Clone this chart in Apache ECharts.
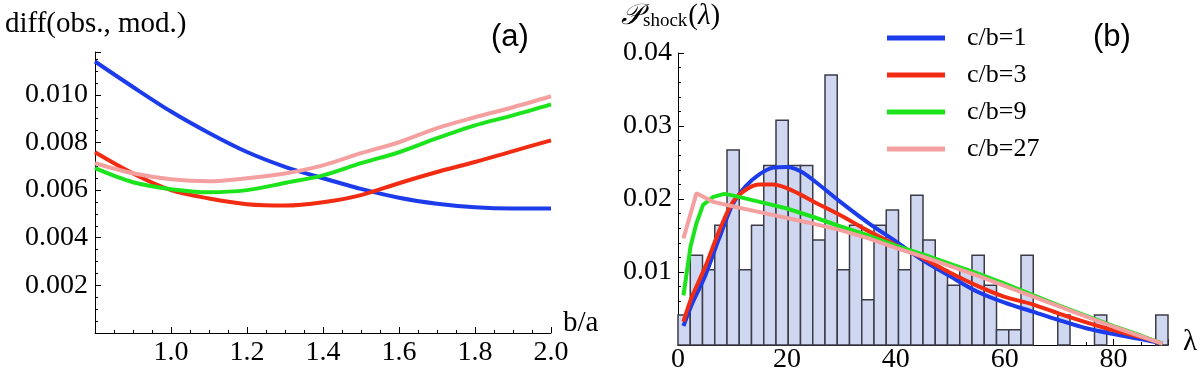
<!DOCTYPE html>
<html>
<head>
<meta charset="utf-8">
<script src="https://cdn.jsdelivr.net/npm/echarts@6/dist/echarts.min.js"></script>
<style>
  html, body { margin: 0; padding: 0; background: #fff; }
  #main { width: 1200px; height: 374px; }
</style>
</head>
<body>
<div id="main"></div>
<script>
// ---- panel (a): diff(obs., mod.) vs b/a ----
var ba = [0.8, 0.9, 1.0, 1.1, 1.2, 1.3, 1.4, 1.5, 1.6, 1.7, 1.8, 1.9, 2.0]
var diffCb1 = [0.0114, 0.01033, 0.0093, 0.0084, 0.0076, 0.00698, 0.0065, 0.00605, 0.00568, 0.00543, 0.00528, 0.00523, 0.00523]
var diffCb3 = [0.00759, 0.0067, 0.0060, 0.00565, 0.00541, 0.00535, 0.00549, 0.00579, 0.00629, 0.00676, 0.00718, 0.00764, 0.00809]
var diffCb9 = [0.00692, 0.00633, 0.00604, 0.00591, 0.0060, 0.0063, 0.00662, 0.00713, 0.00759, 0.00818, 0.00872, 0.00914, 0.0096]
var diffCb27 = [0.00713, 0.00671, 0.00646, 0.00637, 0.0065, 0.0067, 0.00704, 0.00755, 0.00801, 0.0086, 0.00906, 0.00948, 0.00994]

// ---- panel (b): P_shock(lambda) ----
var binWidth = 2.25
var histHeights = [
  0.0041, 0.0123, 0.0103, 0.0164, 0.0267, 0.0103, 0.0164, 0.0246, 0.0308, 0.0246,
  0.0246, 0.0144, 0.0370, 0.0103, 0.0164, 0.0062, 0.0164, 0.0185, 0.0103, 0.0205,
  0.0144, 0.0103, 0.0082, 0.0103, 0.0123, 0.0082, 0.0021, 0.0021, 0.0123, 0,
  0, 0.0041, 0, 0, 0.0041, 0, 0, 0, 0, 0.0041
]
var lamSmooth = [1, 2.5, 5, 7.5, 10, 12.5, 15, 17.5, 20, 22.5, 25, 30, 35, 40, 45, 50, 55, 60, 65, 70, 75, 80, 85, 89]
var pCb1 = [0.0026, 0.0055, 0.0095, 0.0145, 0.0192, 0.0218, 0.0234, 0.0243, 0.0244, 0.0238, 0.0225, 0.0195, 0.0167, 0.0142, 0.0116, 0.0094, 0.0073, 0.0058, 0.0046, 0.0034, 0.0023, 0.0015, 0.0008, 0.0002]
var pCb3 = [0.0032, 0.0065, 0.0107, 0.0155, 0.0195, 0.0213, 0.0220, 0.0220, 0.0215, 0.0206, 0.0196, 0.0177, 0.0156, 0.0137, 0.0119, 0.0099, 0.0081, 0.0066, 0.0056, 0.0043, 0.0031, 0.0020, 0.0011, 0.0002]
var lamCb9 = [1, 2.3, 3.4, 4.6, 6.5, 8.5, 10, 15, 20, 25, 30, 35, 40, 45, 50, 55, 60, 65, 70, 75, 80, 85, 89]
var pCb9 = [0.0068, 0.0135, 0.0167, 0.0192, 0.0203, 0.0207, 0.0205, 0.0196, 0.0187, 0.0175, 0.0162, 0.0150, 0.0136, 0.0124, 0.0111, 0.0098, 0.0084, 0.0069, 0.0054, 0.0040, 0.0026, 0.0013, 0.0002]
var lamCb27 = [1, 3.4, 6.5, 10, 15, 20, 25, 30, 35, 40, 45, 50, 55, 60, 65, 70, 75, 80, 85, 89]
var pCb27 = [0.0146, 0.0208, 0.0196, 0.0190, 0.0182, 0.0174, 0.0166, 0.0157, 0.0146, 0.0133, 0.0121, 0.0108, 0.0095, 0.0081, 0.0067, 0.0053, 0.0039, 0.0025, 0.0012, 0.0002]

var seriesNames = ['c/b=1', 'c/b=3', 'c/b=9', 'c/b=27']
var colors = ['#1c3cec', '#f22c12', '#1ce41c', '#f5a0a0']

var serif = 'Liberation Serif'

function zip(xs, ys) {
  return xs.map(function (x, i) { return [x, ys[i]] })
}

var histData = []
histHeights.forEach(function (h, i) {
  if (h > 0) histData.push([i * binWidth, (i + 1) * binWidth, h])
})

function lineSeries(idx, xAxisIndex, data, smooth) {
  return {
    name: seriesNames[idx],
    type: 'line',
    xAxisIndex: xAxisIndex,
    yAxisIndex: xAxisIndex,
    data: data,
    smooth: smooth,
    showSymbol: false,
    color: colors[idx],
    lineStyle: { color: colors[idx], width: 4 },
    z: 3 + idx,
    animation: false
  }
}

var axisCommon = {
  axisLine: { onZero: false, lineStyle: { color: '#000', width: 1 } },
  axisTick: { inside: true, length: 6, lineStyle: { color: '#000' } },
  minorTick: { show: true, length: 3, lineStyle: { color: '#000' } },
  splitLine: { show: false },
  axisLabel: { color: '#000', fontFamily: serif, fontSize: 28 }
}

function axis(extra) {
  return echarts.util.merge(echarts.util.clone(axisCommon), extra, true)
}

var chart = echarts.init(document.getElementById('main'))
chart.setOption({
  animation: false,
  grid: [
    { left: 95, right: 649, top: 52, bottom: 41 },
    { left: 678, right: 32, top: 53, bottom: 29 }
  ],
  xAxis: [
    axis({
      type: 'value', gridIndex: 0, min: 0.8, max: 2.0, interval: 0.2,
      minorTick: { splitNumber: 4 },
      axisLabel: { margin: 6, showMinLabel: false, formatter: function (v) { return v.toFixed(1) } }
    }),
    axis({
      type: 'value', gridIndex: 1, min: 0, max: 90, interval: 20,
      minorTick: { splitNumber: 4 },
      axisLabel: { margin: 1, showMaxLabel: false }
    })
  ],
  yAxis: [
    axis({
      type: 'value', gridIndex: 0, min: 0, max: 0.0118, interval: 0.002,
      minorTick: { splitNumber: 4 },
      axisLabel: { margin: 7, showMinLabel: false, showMaxLabel: false, formatter: function (v) { return v.toFixed(3) } }
    }),
    axis({
      type: 'value', gridIndex: 1, min: 0, max: 0.04, interval: 0.01,
      minorTick: { splitNumber: 5 },
      axisLabel: { margin: 6, showMinLabel: false, formatter: function (v) { return v.toFixed(2) } }
    })
  ],
  legend: {
    data: seriesNames,
    orient: 'vertical',
    left: 882,
    top: 20,
    icon: 'rect',
    itemWidth: 58,
    itemHeight: 5,
    itemGap: 11,
    selectedMode: false,
    textStyle: { fontFamily: serif, fontSize: 26, lineHeight: 26, color: '#000', padding: [0, 0, 0, 17] }
  },
  graphic: [
    { type: 'text', left: 5, top: 10, style: { text: 'diff(obs., mod.)', font: '29px Liberation Serif', fill: '#000' } },
    { type: 'text', left: 491, top: 22, style: { text: '(a)', font: '31px Liberation Sans', fill: '#000' } },
    { type: 'text', left: 563, top: 309, style: { text: 'b/a', font: '29px Liberation Serif', fill: '#000' } },
    {
      type: 'text', left: 621, top: 2,
      style: {
        text: '{p|𝒫}{s|shock}{n|(}{l|λ}{n|)}',
        rich: {
          p: { font: 'italic 29px DejaVu Serif', fill: '#000', verticalAlign: 'bottom' },
          s: { font: '19px Liberation Serif', fill: '#000', padding: [0, 1, 0, 1], verticalAlign: 'bottom' },
          n: { font: '29px Liberation Serif', fill: '#000', verticalAlign: 'bottom' },
          l: { font: 'italic 29px Liberation Serif', fill: '#000', verticalAlign: 'bottom' }
        }
      }
    },
    { type: 'text', left: 1093, top: 22, style: { text: '(b)', font: '31px Liberation Sans', fill: '#000' } },
    { type: 'text', left: 1183, top: 328, style: { text: 'λ', font: '29px Liberation Serif', fill: '#000' } }
  ],
  series: [
    lineSeries(0, 0, zip(ba, diffCb1), 0.3),
    lineSeries(1, 0, zip(ba, diffCb3), 0.3),
    lineSeries(2, 0, zip(ba, diffCb9), 0.3),
    lineSeries(3, 0, zip(ba, diffCb27), 0.3),
    {
      type: 'custom',
      xAxisIndex: 1,
      yAxisIndex: 1,
      data: histData,
      encode: { x: [0, 1], y: 2 },
      z: 1,
      renderItem: function (params, api) {
        var p0 = api.coord([api.value(0), api.value(2)])
        var p1 = api.coord([api.value(1), 0])
        return {
          type: 'rect',
          shape: { x: p0[0], y: p0[1], width: p1[0] - p0[0], height: p1[1] - p0[1] },
          style: { fill: '#d0d7f1', stroke: '#3c3c48', lineWidth: 1.5 }
        }
      }
    },
    lineSeries(0, 1, zip(lamSmooth, pCb1), 0.3),
    lineSeries(1, 1, zip(lamSmooth, pCb3), 0.3),
    lineSeries(2, 1, zip(lamCb9, pCb9), false),
    lineSeries(3, 1, zip(lamCb27, pCb27), false)
  ]
})
</script>
</body>
</html>
